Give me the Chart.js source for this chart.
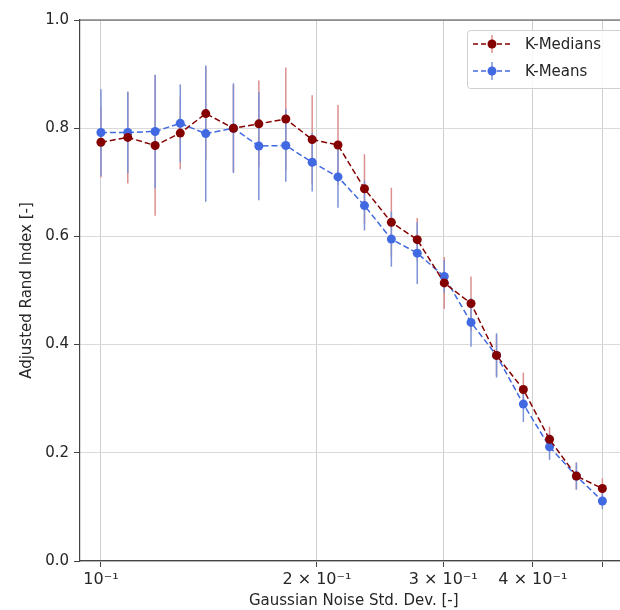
<!DOCTYPE html>
<html>
<head>
<meta charset="utf-8">
<script src="https://cdn.jsdelivr.net/npm/chart.js@4.4.1/dist/chart.umd.min.js"></script>
<style>
  html, body { margin: 0; padding: 0; background: #fff; overflow: hidden; }
  #wrap { width: 620px; height: 610px; overflow: hidden; }
</style>
</head>
<body>
<div id="wrap"><canvas id="myChart" width="632" height="610"></canvas></div>
<script>
// noise std. dev. levels (log-spaced)
const noiseStd = [0.100, 0.109, 0.119, 0.129, 0.140, 0.153, 0.166, 0.181, 0.197, 0.214,
                  0.233, 0.254, 0.276, 0.301, 0.328, 0.356, 0.388, 0.422, 0.460, 0.500];

// adjusted rand index, mean and std over runs
const medianScores = [0.774, 0.783, 0.768, 0.791, 0.827, 0.800, 0.808, 0.817, 0.779, 0.769,
                      0.688, 0.626, 0.594, 0.514, 0.476, 0.380, 0.317, 0.225, 0.157, 0.134];
const medianErr    = [0.065, 0.085, 0.130, 0.067, 0.085, 0.080, 0.080, 0.095, 0.082, 0.074,
                      0.064, 0.064, 0.040, 0.048, 0.050, 0.038, 0.031, 0.023, 0.025, 0.019];
const meanScores   = [0.792, 0.792, 0.794, 0.809, 0.790, 0.800, 0.767, 0.768, 0.737, 0.710,
                      0.657, 0.595, 0.569, 0.526, 0.441, 0.380, 0.290, 0.211, 0.157, 0.111];
const meanErr      = [0.080, 0.075, 0.105, 0.072, 0.126, 0.083, 0.100, 0.067, 0.054, 0.057,
                      0.046, 0.051, 0.057, 0.030, 0.045, 0.041, 0.033, 0.024, 0.025, 0.015];

const xTickValues = [0.1, 0.2, 0.3, 0.4, 0.5];
const xTickLabels = ['10\u207B\u00B9', '2 \u00D7 10\u207B\u00B9', '3 \u00D7 10\u207B\u00B9', '4 \u00D7 10\u207B\u00B9', ''];

const FONT = { family: "'DejaVu Sans', sans-serif", size: 15 };
const TEXT = '#262626';
const AXIS = '#444444';

const toPoints = ys => noiseStd.map((x, i) => ({ x: x, y: ys[i] }));

// vertical error bars, drawn under the lines and markers
const errorBars = {
    id: 'errorBars',
    beforeDatasetsDraw(chart) {
        const { ctx, scales: { x, y } } = chart;
        ctx.save();
        ctx.lineWidth = 1.5;
        chart.data.datasets.forEach(ds => {
            ctx.strokeStyle = ds.errColor;
            ds.data.forEach((p, j) => {
                const px = x.getPixelForValue(p.x);
                ctx.beginPath();
                ctx.moveTo(px, y.getPixelForValue(p.y - ds.err[j]));
                ctx.lineTo(px, y.getPixelForValue(p.y + ds.err[j]));
                ctx.stroke();
            });
        });
        ctx.restore();
    }
};

// top spine + legend box in the upper right
const frameAndLegend = {
    id: 'frameAndLegend',
    afterDraw(chart) {
        const { ctx, chartArea } = chart;
        ctx.save();
        ctx.strokeStyle = AXIS;
        ctx.lineWidth = 1.2;
        ctx.beginPath();
        ctx.moveTo(chartArea.left, chartArea.top);
        ctx.lineTo(chartArea.right, chartArea.top);
        ctx.stroke();

        const bx = 467, by = 30, bw = 200, bh = 58;
        ctx.fillStyle = 'rgba(255,255,255,0.85)';
        ctx.strokeStyle = '#d0d0d0';
        ctx.lineWidth = 1;
        ctx.beginPath();
        ctx.roundRect(bx + 0.5, by + 0.5, bw, bh, 3);
        ctx.fill();
        ctx.stroke();

        chart.data.datasets.forEach((ds, i) => {
            const cy = 44 + i * 27;
            ctx.strokeStyle = ds.errColor;
            ctx.lineWidth = 1.5;
            ctx.setLineDash([]);
            ctx.beginPath();
            ctx.moveTo(492, cy - 9);
            ctx.lineTo(492, cy + 9);
            ctx.stroke();

            ctx.strokeStyle = ds.borderColor;
            ctx.setLineDash([5, 3]);
            ctx.beginPath();
            ctx.moveTo(473, cy);
            ctx.lineTo(511, cy);
            ctx.stroke();
            ctx.setLineDash([]);

            ctx.fillStyle = ds.borderColor;
            ctx.beginPath();
            ctx.arc(492, cy, 4.5, 0, Math.PI * 2);
            ctx.fill();

            ctx.fillStyle = TEXT;
            ctx.font = `${FONT.size}px ${FONT.family}`;
            ctx.textBaseline = 'middle';
            ctx.textAlign = 'left';
            ctx.fillText(ds.label, 525, cy + 1);
        });
        ctx.restore();
    }
};

const ctx = document.getElementById('myChart').getContext('2d');
const chart = new Chart(ctx, {
    type: 'line',
    data: {
        datasets: [
            {
                label: 'K-Medians',
                data: toPoints(medianScores),
                err: medianErr,
                errColor: '#dc8f8f',
                borderColor: '#850000',
                backgroundColor: '#850000',
                borderWidth: 1.5,
                borderDash: [6, 3],
                pointRadius: 4.5,
                pointBorderWidth: 0,
                pointBackgroundColor: '#850000',
                tension: 0
            },
            {
                label: 'K-Means',
                data: toPoints(meanScores),
                err: meanErr,
                errColor: '#7d93d6',
                borderColor: '#4169e1',
                backgroundColor: '#4169e1',
                borderWidth: 1.5,
                borderDash: [6, 3],
                pointRadius: 4.5,
                pointBorderWidth: 0,
                pointBackgroundColor: '#4169e1',
                tension: 0
            }
        ]
    },
    options: {
        responsive: false,
        animation: false,
        layout: { padding: { top: 20, left: 0, right: 0, bottom: 0 } },
        plugins: {
            legend: { display: false },
            tooltip: { enabled: false }
        },
        scales: {
            x: {
                type: 'logarithmic',
                min: 0.0935,
                max: 0.542,
                afterBuildTicks(scale) {
                    scale.ticks = xTickValues.map(v => ({ value: v }));
                },
                afterFit(scale) { scale.height = 49; },
                ticks: {
                    autoSkip: false,
                    maxRotation: 0,
                    padding: 3,
                    font: { family: FONT.family, size: 16 },
                    color: TEXT,
                    callback: (v, i) => xTickLabels[i]
                },
                grid: { color: '#cfcfcf', tickColor: AXIS, tickLength: 6 },
                border: { color: AXIS, width: 1.2 },
                title: {
                    display: true,
                    text: 'Gaussian Noise Std. Dev. [-]',
                    font: FONT,
                    color: TEXT,
                    padding: { top: 1, bottom: 0 }
                }
            },
            y: {
                min: 0,
                max: 1,
                afterFit(scale) { scale.width = 80; },
                ticks: {
                    stepSize: 0.2,
                    padding: 5,
                    font: FONT,
                    color: TEXT,
                    callback: v => v.toFixed(1)
                },
                grid: { color: '#dadada', tickColor: AXIS, tickLength: 6 },
                border: { color: AXIS, width: 1.2 },
                title: {
                    display: true,
                    text: 'Adjusted Rand Index [-]',
                    font: FONT,
                    color: TEXT,
                    padding: { top: 18, bottom: 0 }
                }
            }
        }
    },
    plugins: [errorBars, frameAndLegend]
});
</script>
</body>
</html>
